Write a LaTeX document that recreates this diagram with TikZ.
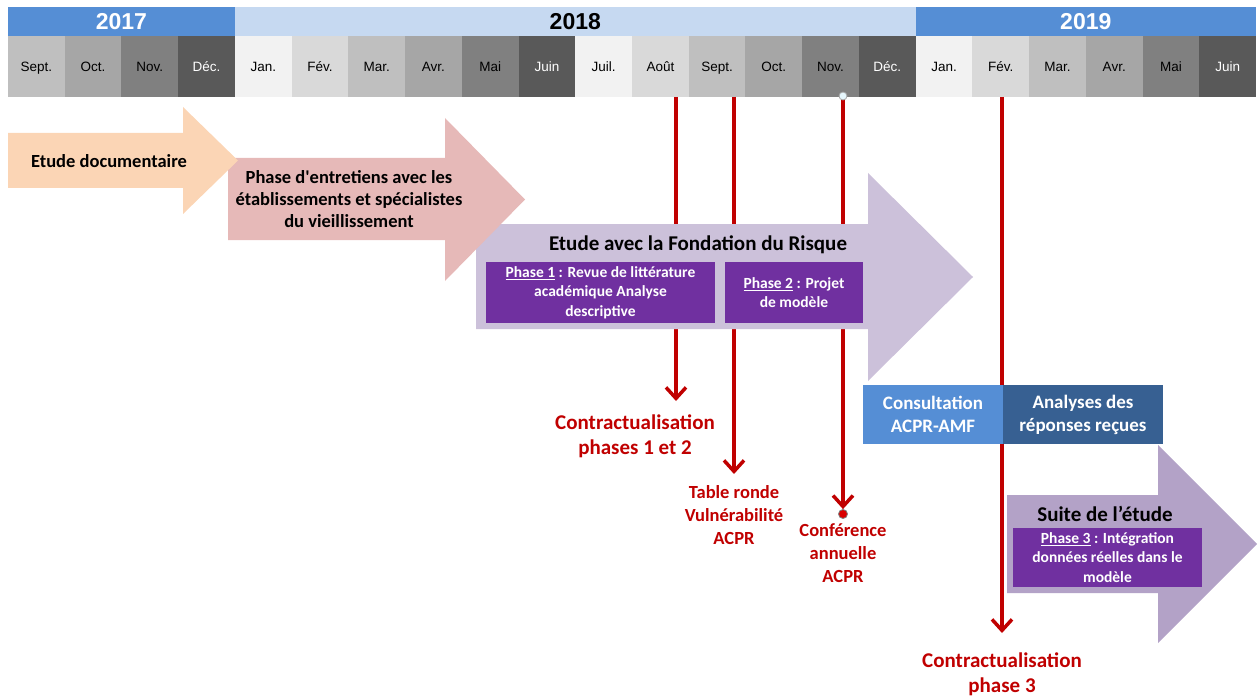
\documentclass[tikz,border=0pt]{standalone}
\usepackage{xcolor}
\usepackage{fontspec}
\usepackage{tikz}
\usetikzlibrary{arrows.meta}
\setmainfont{Carlito}
\newfontfamily\arialfont{Liberation Sans}

\definecolor{yearblue}{HTML}{558ED5}
\definecolor{yearlight}{HTML}{C6D9F1}
\definecolor{g0}{HTML}{F2F2F2}
\definecolor{g1}{HTML}{D9D9D9}
\definecolor{g2}{HTML}{BFBFBF}
\definecolor{g3}{HTML}{A6A6A6}
\definecolor{g4}{HTML}{808080}
\definecolor{g5}{HTML}{595959}
\definecolor{peach}{HTML}{FBD5B5}
\definecolor{pinkc}{HTML}{E6B9B8}
\definecolor{lavender}{HTML}{CCC1DA}
\definecolor{suitecol}{HTML}{B3A2C7}
\definecolor{phasepurple}{HTML}{7030A0}
\definecolor{analyses}{HTML}{376092}
\definecolor{redc}{HTML}{C00000}

\newcommand{\bigarrow}[8]{\fill[#1] (#2,#3) -- (#5,#3) -- (#5,#6) -- (#8,{(#6+#7)/2}) -- (#5,#7) -- (#5,#4) -- (#2,#4) -- cycle;}

\begin{document}
\begin{tikzpicture}[x=1bp,y=-1bp]
\useasboundingbox (0,0) rectangle (1258,700);
\tikzstyle{month}=[minimum width=56.73bp,minimum height=61bp,inner sep=0pt,text height=9.5bp,text depth=0bp,font=\arialfont\fontsize{13.5bp}{16bp}\selectfont];
\tikzstyle{year}=[minimum height=29bp,inner sep=0pt,font=\arialfont\bfseries\fontsize{23bp}{26bp}\selectfont];
\tikzstyle{bigtext}=[align=center,inner sep=0pt,font=\bfseries\fontsize{18.5bp}{22bp}\selectfont];
\tikzstyle{title}=[align=center,inner sep=0pt,font=\bfseries\fontsize{21bp}{25bp}\selectfont];
\tikzstyle{phasebox}=[fill=phasepurple,text=white,align=center,inner sep=0pt,font=\bfseries\fontsize{15.5bp}{19.3bp}\selectfont];
\tikzstyle{bluebox}=[text=white,align=center,inner sep=0pt,minimum height=59bp,font=\bfseries\fontsize{19bp}{23bp}\selectfont];
\tikzstyle{redline}=[draw=redc,line width=3.5bp,-{Straight Barb[length=11bp,width=20bp]}];
\tikzstyle{redbig}=[text=redc,align=center,inner sep=0pt,font=\bfseries\fontsize{21bp}{25bp}\selectfont];
\tikzstyle{redsmall}=[text=redc,align=center,inner sep=0pt,font=\bfseries\fontsize{18.5bp}{23bp}\selectfont];

\node[year,fill=yearblue,text=white,minimum width=226.9bp] (y2017) at (121.45,21.5) {2017};
\node[year,fill=yearlight,text=black,minimum width=680.8bp] (y2018) at (575.3,21.5) {2018};
\node[year,fill=yearblue,text=white,minimum width=340.4bp] (y2019) at (1085.8,21.5) {2019};

\foreach \m [count=\i from 0] in {Sept.,Oct.,Nov.,Déc.,Jan.,Fév.,Mar.,Avr.,Mai,Juin,Juil.,Août,Sept.,Oct.,Nov.,Déc.,Jan.,Fév.,Mar.,Avr.,Mai,Juin}{
  \pgfmathtruncatemacro{\c}{mod(\i+2,6)}
  \ifnum\c=5 \def\tc{white}\else\def\tc{black}\fi
  \node[month,fill=g\c,text=\tc] (m\i) at ({8+56.73*(\i+0.5)},66.5) {\m};
}

\coordinate (t1) at (676,97);
\coordinate (e1) at (676,401);
\coordinate (t2) at (734,97);
\coordinate (e2) at (734,474);
\coordinate (t4) at (1002,97);
\coordinate (e4) at (1002,633);
\node[circle,draw=gray,fill=red!85!black,line width=0.8bp,inner sep=0pt,minimum size=9bp] (dotB) at (843,514) {};
\draw[redline] (t1)--(e1);
\draw[redline] (t2)--(e2);
\draw[redline] (843,97)--(dotB);
\draw[redline] (t4)--(e4);
\node[circle,draw=gray!70,fill=cyan!10,line width=0.8bp,inner sep=0pt,minimum size=8bp] (dotA) at (843,96) {};

\bigarrow{lavender}{476}{224}{329}{868}{173}{381}{973}
\bigarrow{pinkc}{228}{158}{240}{445}{118}{281}{525}
\bigarrow{peach}{8}{133}{188}{183}{107}{214}{238}

\node[bigtext] (docu) at (109,161) {Etude documentaire};
\node[bigtext] (entret) at (349,199) {Phase d\textquotesingle entretiens avec les\\établissements et spécialistes\\du vieillissement};
\node[title] (fondation) at (698,245) {Etude avec la Fondation du Risque};
\node[phasebox,minimum width=229bp,minimum height=61bp] (ph1) at (600.5,292.5) {\underline{Phase 1} : Revue de littérature\\académique Analyse\\descriptive};
\node[phasebox,minimum width=138bp,minimum height=61bp] (ph2) at (794,292.5) {\underline{Phase 2} : Projet\\de modèle};

\bigarrow{suitecol}{1007}{495}{593}{1158}{445}{643}{1257}
\node[bluebox,fill=yearblue,minimum width=140bp] (consult) at (933,414.5) {Consultation\\ACPR-AMF};
\node[bluebox,fill=analyses,minimum width=160bp] (analyse) at (1083,414.5) {Analyses des\\réponses reçues};
\node[title] (suite) at (1105,514) {Suite de l’étude};
\node[phasebox,minimum width=189bp,minimum height=59bp] (ph3) at (1107.5,557.5) {\underline{Phase 3} : Intégration\\données réelles dans le\\modèle};

\node[redbig] (contr12) at (635,436) {Contractualisation\\phases 1 et 2};
\node[redsmall] (table) at (734,515) {Table ronde\\Vulnérabilité\\ACPR};
\node[redsmall] (conf) at (843,553) {Conférence\\annuelle\\ACPR};
\node[redbig] (contr3) at (1002,674) {Contractualisation\\phase 3};
\end{tikzpicture}
\end{document}
